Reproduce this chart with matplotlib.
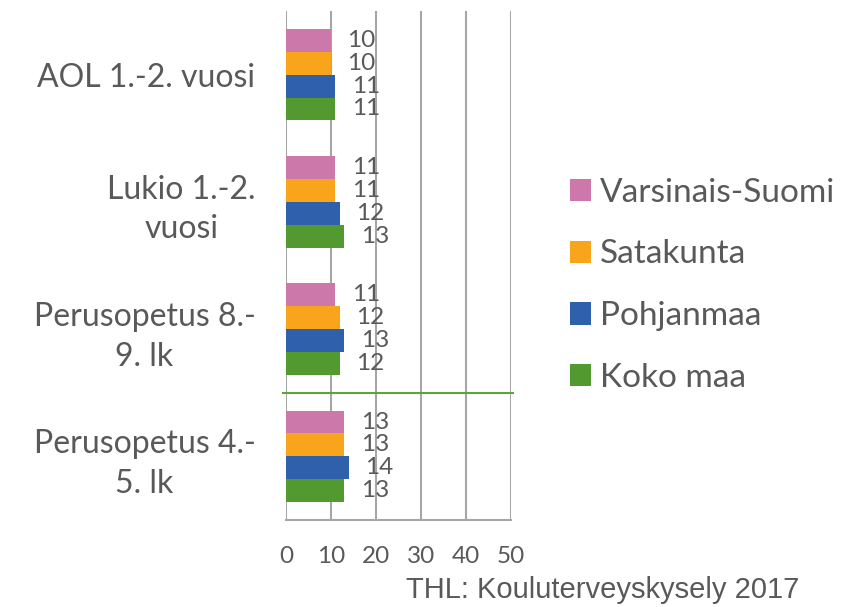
import numpy as np
import matplotlib.pyplot as plt
from matplotlib.patches import Patch

categories = ["AOL 1.-2. vuosi", "Lukio 1.-2.\nvuosi", "Perusopetus 8.-\n9. lk", "Perusopetus 4.-\n5. lk"]
series_names = ["Varsinais-Suomi", "Satakunta", "Pohjanmaa", "Koko maa"]
varsinais_suomi = [10, 11, 11, 13]
satakunta = [10, 11, 12, 13]
pohjanmaa = [11, 12, 13, 14]
koko_maa = [11, 13, 12, 13]
colors = ["#CC78AA", "#F9A51B", "#2E60AC", "#529A2F"]
source = "THL: Kouluterveyskysely 2017"

plt.rcParams['font.family'] = ['Lato', 'DejaVu Sans']
text_color = "#595959"
grid_color = "#A6A6A6"

fig = plt.figure(figsize=(8.46, 6.07), dpi=100)
ax = fig.add_axes([0.338, 0.1433, 0.266, 0.8386])

# categories from top to bottom
y = np.arange(len(categories))
bar_h = 0.18
values = [varsinais_suomi, satakunta, pohjanmaa, koko_maa]
for i, (name, vals, c) in enumerate(zip(series_names, values, colors)):
    offs = (i - 1.5) * bar_h
    ax.barh(y + offs, vals, height=bar_h, color=c, label=name, zorder=3)
    for yy, v in zip(y + offs, vals):
        ax.text(v + 3.6, yy, str(v), va='center', ha='left', fontsize=17.5,
                color=text_color, zorder=4)

ax.set_ylim(len(categories) - 0.5, -0.5)
ax.set_xlim(0, 50)
ax.set_xticks(range(0, 51, 10))
ax.xaxis.grid(True, color=grid_color, linewidth=1.5, zorder=0)
ax.set_axisbelow(True)
for s in ['top', 'right', 'left']:
    ax.spines[s].set_visible(False)
ax.spines['bottom'].set_color(grid_color)
ax.spines['bottom'].set_linewidth(1.5)
ax.tick_params(axis='x', length=0, pad=19, labelsize=17.5, labelcolor=text_color)
ax.tick_params(axis='y', length=0, pad=22, labelsize=23, labelcolor=text_color)
ax.set_yticks(y)
ax.set_yticklabels(categories, multialignment='center', linespacing=1.4)

# green separator line between the last two groups
ax.axhline(2.5, xmin=-0.012, xmax=1.01, color="#5BA33C", linewidth=1.5,
           clip_on=False, zorder=5)

handles = [Patch(facecolor=c, label=n) for n, c in zip(series_names, colors)]
leg = fig.legend(handles=handles, loc='center left', bbox_to_anchor=(0.638, 0.53),
                 frameon=False, fontsize=24, handlelength=0.65, handleheight=0.65,
                 handletextpad=0.25, labelspacing=0.95, labelcolor=text_color)

fig.text(0.945, 0.028, source, ha='right', va='center', fontsize=21,
         color=text_color, family='Liberation Sans')

fig.savefig("out.png", dpi=100)
